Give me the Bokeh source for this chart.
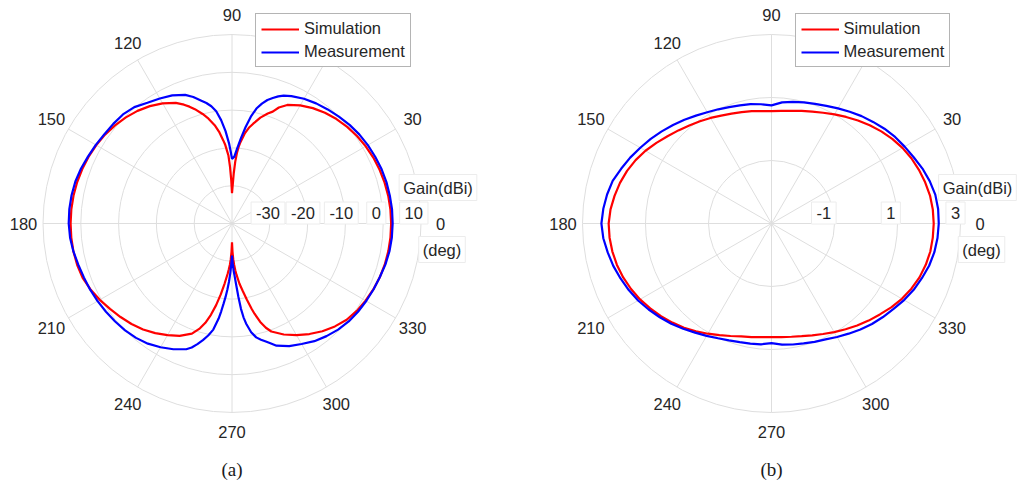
import numpy as np
from bokeh.plotting import figure
from bokeh.models import Range1d, Legend, LegendItem
from bokeh.layouts import row
from bokeh.embed import file_html
from bokeh.resources import INLINE
from bokeh.core.properties import value

# ---------------- data ----------------
# (a) elevation-type pattern, gain in dBi, angle in degrees
a_sim_ang = [0, 5, 10, 15, 20, 25, 30, 35, 40, 45, 50, 55, 60, 65, 68, 70, 72, 75, 78, 80, 82, 84, 85, 86, 87, 88, 89, 90,
             91, 92, 93, 94, 95, 96, 98, 100, 103, 105, 108, 110, 112, 115, 120, 125, 130, 135, 140, 145, 150, 155, 160,
             165, 170, 175, 180, 185, 190, 195, 200, 205, 210, 215, 220, 225, 230, 235, 240, 245, 250, 253, 255, 257,
             259, 261, 263, 265, 266, 267, 268, 269, 270, 271, 272, 273, 274, 275, 277, 279, 281, 283, 284, 286, 288,
             290, 295, 300, 305, 310, 315, 320, 325, 330, 335, 340, 345, 350, 355]
a_sim_gain = [2.1, 2.07, 1.97, 1.8, 1.56, 1.25, 0.85, 0.37, -0.22, -0.91, -1.74, -2.73, -3.92, -5.4, -6.9, -8.5, -9.4,
              -11.0, -13.0, -14.3, -16.0, -18.3, -19.6, -21.3, -23.6, -26.7, -30.0, -32.0,
              -28.5, -25.0, -22.0, -20.6, -19.0, -17.9, -15.5, -13.6, -11.3, -10.0, -8.2, -7.1, -6.1, -4.8, -3.3, -2.1,
              -1.1, -0.3, 0.4, 1.0, 1.45, 1.85, 2.15, 2.4, 2.57, 2.67, 2.7,
              2.68, 2.6, 2.4, 2.05, 1.3, 0.4, -0.6, -1.5, -2.4, -3.4, -4.6, -5.9, -7.2, -9.0, -11.0, -12.8, -15.2,
              -18.0, -21.0, -24.0, -26.6, -27.8, -29.0, -30.5, -32.5, -35.0,
              -32.5, -30.5, -29.0, -27.6, -26.4, -24.0, -22.0, -19.5, -16.8, -15.4, -12.9, -11.0,
              -9.6, -7.6, -5.9, -4.3, -2.8, -1.5, -0.4, 0.3, 0.8, 1.25, 1.6, 1.85, 2.0, 2.08]

a_meas_ang = [0, 5, 10, 15, 20, 25, 30, 35, 40, 45, 50, 55, 60, 65, 68, 70, 72, 74, 76, 78, 80, 82, 84, 86, 88, 90,
              91, 92, 94, 96, 98, 100, 102, 104, 107, 110, 115, 120, 125, 130, 135, 140, 145, 150, 155, 160, 165, 170,
              175, 180, 185, 190, 195, 200, 205, 210, 215, 220, 225, 230, 235, 240, 245, 250, 252, 254, 256, 258, 260,
              262, 263, 264, 265, 266, 267, 268, 269, 270, 271, 272, 273, 274, 275, 276, 277, 278, 280, 282, 284, 286,
              288, 290, 295, 300, 305, 310, 315, 320, 325, 330, 335, 340, 345, 350, 355]
a_meas_gain = [2.5, 2.5, 2.4, 2.3, 2.1, 1.8, 1.5, 1.1, 0.6, 0.0, -0.6, -1.2, -1.9, -2.8, -3.5, -4.2, -5.1, -6.0, -7.3,
               -8.9, -11.3, -14.3, -17.3, -20.0, -22.3, -22.9,
               -21.0, -19.0, -15.5, -12.5, -10.0, -8.5, -7.4, -6.5, -5.0, -3.8, -2.6, -1.8, -1.0, 0.2, 0.8, 1.0, 1.2,
               1.6, 2.0, 2.5, 2.9, 3.1, 3.2, 3.2,
               3.0, 2.6, 2.1, 1.7, 1.4, 1.05, 0.7, 0.35, 0.0, -0.5, -1.2, -2.2, -3.3, -4.6, -5.5, -6.8, -8.2, -9.7,
               -11.5, -14.6, -16.6, -18.7, -20.5, -22.5, -24.5, -26.8, -29.2, -31.5,
               -29.5, -27.5, -25.8, -23.5, -20.5, -17.3, -15.0, -13.3, -10.8, -9.2, -8.3, -7.5, -6.6, -5.6, -4.2,
               -3.2, -2.0, -1.1, -0.3, 0.3, 0.7, 1.0, 1.3, 1.6, 2.0, 2.3, 2.45]

# (b) azimuth-type pattern, 5 degree steps
b_ang = list(range(0, 360, 5))
b_sim_gain = [2.15, 2.14, 2.11, 2.05, 1.98, 1.90, 1.80, 1.68, 1.55, 1.41, 1.27, 1.13, 1.00, 0.88, 0.78, 0.70, 0.63,
              0.59, 0.57, 0.58, 0.62, 0.66, 0.71, 0.78, 0.87, 0.96, 1.06, 1.18, 1.31, 1.46, 1.62, 1.76, 1.88, 1.98,
              2.06, 2.13, 2.17, 2.16, 2.13, 2.08, 2.01, 1.92, 1.82, 1.70, 1.58, 1.45, 1.32, 1.18, 1.04, 0.91, 0.80,
              0.71, 0.66, 0.62, 0.61, 0.62, 0.65, 0.70, 0.78, 0.87, 0.98, 1.10, 1.23, 1.36, 1.49, 1.64, 1.78, 1.90,
              2.00, 2.07, 2.12, 2.14]
b_meas_gain = [2.31, 2.31, 2.28, 2.20, 2.10, 1.98, 1.88, 1.79, 1.68, 1.56, 1.45, 1.33, 1.22, 1.12, 1.04, 0.98, 0.92,
               0.86, 0.75, 0.80, 0.85, 0.88, 0.93, 1.00, 1.08, 1.18, 1.30, 1.42, 1.55, 1.68, 1.81, 1.95, 2.08, 2.22,
               2.30, 2.36, 2.40, 2.36, 2.28, 2.20, 2.10, 2.00, 1.89, 1.76, 1.63, 1.50, 1.36, 1.23, 1.12, 1.02, 0.95,
               0.90, 0.87, 0.85, 0.80, 0.86, 0.90, 0.94, 1.00, 1.06, 1.16, 1.27, 1.39, 1.51, 1.62, 1.73, 1.86, 1.98,
               2.08, 2.18, 2.25, 2.29]

theta_ticks = [0, 30, 60, 90, 120, 150, 180, 210, 240, 270, 300, 330]
theta_tick_labels = [str(t) for t in theta_ticks]

a_rmin, a_rmax = -40, 10
a_rticks = [-30, -20, -10, 0, 10]
b_rmin, b_rmax = -3, 3
b_rticks = [-1, 1, 3]

series_names = ["Simulation", "Measurement"]
captions = ["(a)", "(b)"]
r_axis_title = "Gain(dBi)"
theta_axis_title = "(deg)"

# ---------------- styling / layout ----------------
H = 482
FONT_NAME = "Liberation Sans"
FONT = value(FONT_NAME)
TXT = "#262626"
GRID = "#dedede"
FS = "16.5px"


def polar_panel(width, cx, cy, ppu, rmin, rmax, rticks, rtick_dx_px,
                sim_ang, sim_g, meas_ang, meas_g, caption):
    p = figure(width=width, height=H,
               x_range=Range1d(-cx / ppu, (width - cx) / ppu),
               y_range=Range1d(-(H - cy) / ppu, cy / ppu),
               toolbar_location=None, output_backend="svg",
               x_axis_location=None, y_axis_location=None, min_border=0)
    p.grid.visible = False
    p.outline_line_color = None
    p.background_fill_color = "white"
    p.border_fill_color = "white"

    R = rmax - rmin
    # rings
    ring_r = [v - rmin for v in rticks]
    p.circle(x=[0] * len(ring_r), y=[0] * len(ring_r), radius=ring_r,
             fill_color=None, line_color=GRID, line_width=1)
    # spokes
    th = np.radians(theta_ticks)
    p.segment(x0=np.zeros(len(th)), y0=np.zeros(len(th)),
              x1=R * np.cos(th), y1=R * np.sin(th), line_color=GRID, line_width=1)

    # curves
    def xy(ang, g):
        a = np.radians(np.array(ang + [ang[0]], dtype=float))
        r = np.array(g + [g[0]], dtype=float) - rmin
        return r * np.cos(a), r * np.sin(a)

    sx, sy = xy(sim_ang, sim_g)
    mx, my = xy(meas_ang, meas_g)
    r_sim = p.line(sx, sy, line_color="#ff0000", line_width=2.2)
    r_meas = p.line(mx, my, line_color="#0000ff", line_width=2.2)

    # angle labels
    rl = 208.5 / ppu
    p.text(x=rl * np.cos(th), y=rl * np.sin(th), text=theta_tick_labels,
           text_font=FONT, text_font_size=FS, text_color=TXT,
           text_align="center", text_baseline="middle")

    # radial tick labels with light boxes
    lx = [v - rmin + d / ppu for v, d in zip(rticks, rtick_dx_px)]
    ly = [10.5 / ppu] * len(rticks)
    p.text(x=lx, y=ly, text=[str(v) for v in rticks],
           text_font=FONT, text_font_size=FS, text_color=TXT,
           text_align="center", text_baseline="middle",
           background_fill_color="white", border_line_color="#ececec", padding=5)

    # axis titles
    p.text(x=[206 / ppu, 210 / ppu], y=[36 / ppu, -26 / ppu],
           text=[r_axis_title, theta_axis_title],
           text_font=FONT, text_font_size=FS, text_color=TXT,
           text_align="center", text_baseline="middle",
           background_fill_color="white", border_line_color="#ececec", padding=4)

    # caption
    p.text(x=[0], y=[-(469 - cy) / ppu], text=[caption],
           text_font=value("Liberation Serif"), text_font_size="19px", text_color="#1a1a1a",
           text_align="center", text_baseline="middle")

    legend = Legend(items=[LegendItem(label=series_names[0], renderers=[r_sim]),
                           LegendItem(label=series_names[1], renderers=[r_meas])],
                    location=(cx + 23.5, H - 67), margin=0, padding=5, spacing=4,
                    glyph_width=38, glyph_height=18, label_height=18, label_standoff=5,
                    label_text_font=FONT_NAME, label_text_font_size=FS, label_text_color=TXT,
                    border_line_color="#6a6a6a", border_line_width=1,
                    background_fill_color="white", background_fill_alpha=1.0)
    p.add_layout(legend)
    return p


left = polar_panel(547, 231.5, 223, 189.0 / (a_rmax - a_rmin), a_rmin, a_rmax, a_rticks,
                   [-1.8, -4.6, -4.1, -6.9, -7.2],
                   a_sim_ang, a_sim_gain, a_meas_ang, a_meas_gain, captions[0])
right = polar_panel(473, 224, 223, 189.0 / (b_rmax - b_rmin), b_rmin, b_rmax, b_rticks,
                    [-10.7, -6.7, -5.0],
                    b_ang, b_sim_gain, b_ang, b_meas_gain, captions[1])

layout = row(left, right, spacing=0)
open("out.html", "w").write(file_html(layout, INLINE))
